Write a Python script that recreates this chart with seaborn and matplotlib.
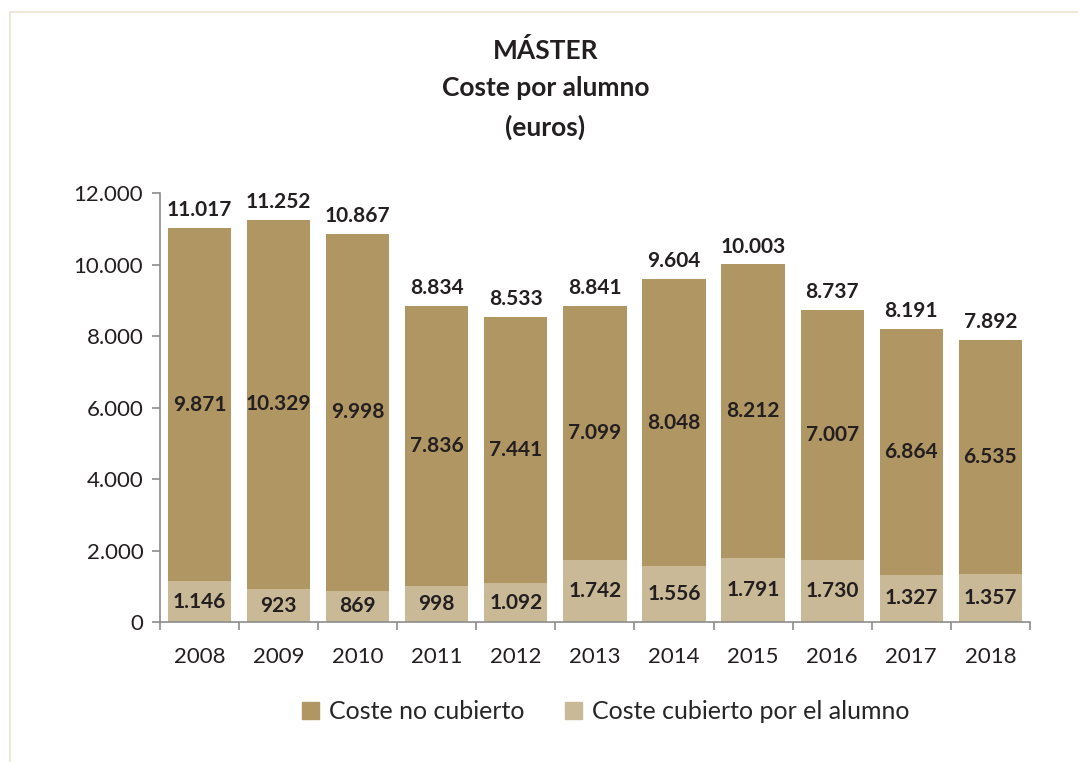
import numpy as np
import pandas as pd
import matplotlib.pyplot as plt
import seaborn as sns
from matplotlib.patches import Patch, Rectangle
from matplotlib.ticker import FuncFormatter, FixedLocator

years = ['2008', '2009', '2010', '2011', '2012', '2013', '2014', '2015', '2016', '2017', '2018']
no_cubierto = [9871, 10329, 9998, 7836, 7441, 7099, 8048, 8212, 7007, 6864, 6535]
cubierto = [1146, 923, 869, 998, 1092, 1742, 1556, 1791, 1730, 1327, 1357]

df = pd.DataFrame({'year': years, 'no_cubierto': no_cubierto, 'cubierto': cubierto})
df['total'] = df['no_cubierto'] + df['cubierto']

dark = '#B09663'
light = '#C9B997'
txt = '#231F20'

def miles(v):
    return f'{int(v):,}'.replace(',', '.')

sns.set_style('white')
plt.rcParams['font.family'] = ['Lato', 'DejaVu Sans']

fig = plt.figure(figsize=(10.78, 7.62), dpi=100)
ax = fig.add_axes([0.1484, 0.1837, 0.807, 0.563])

sns.barplot(data=df, x='year', y='total', color=dark, width=0.8, saturation=1, linewidth=0, ax=ax)
sns.barplot(data=df, x='year', y='cubierto', color=light, width=0.8, saturation=1, linewidth=0, ax=ax)

for i, r in df.iterrows():
    ax.text(i, r['total'] + 220, miles(r['total']), ha='center', va='bottom',
            fontsize=15, fontweight='bold', color=txt)
    ax.text(i, r['cubierto'] + r['no_cubierto'] / 2, miles(r['no_cubierto']), ha='center', va='center',
            fontsize=15, fontweight='bold', color=txt)
    ax.text(i, r['cubierto'] / 2, miles(r['cubierto']), ha='center', va='center',
            fontsize=15, fontweight='bold', color=txt)

ax.set_ylim(0, 12000)
ax.set_xlim(-0.5, len(years) - 0.5)
ax.set_yticks(range(0, 12001, 2000))
ax.yaxis.set_major_formatter(FuncFormatter(lambda v, p: miles(v)))
ax.xaxis.set_minor_locator(FixedLocator(np.arange(-0.5, len(years), 1)))
ax.tick_params(axis='x', which='major', length=0, pad=18, labelsize=16, labelcolor=txt)
ax.tick_params(axis='x', which='minor', length=6, width=1.2, color='#8C8C8C', bottom=True)
ax.tick_params(axis='y', length=6, width=1.2, color='#8C8C8C', left=True, labelsize=16, labelcolor=txt, pad=6)
ax.set_xlabel('')
ax.set_ylabel('')
for s in ['top', 'right']:
    ax.spines[s].set_visible(False)
for s in ['left', 'bottom']:
    ax.spines[s].set_color('#8C8C8C')
    ax.spines[s].set_linewidth(1.2)

fig.text(0.506, 0.934, 'MÁSTER', ha='center', va='center', fontsize=19, fontweight='bold', color=txt)
fig.text(0.506, 0.884, 'Coste por alumno', ha='center', va='center', fontsize=19, fontweight='bold', color=txt)
fig.text(0.506, 0.833, '(euros)', ha='center', va='center', fontsize=19, fontweight='bold', color=txt)

handles = [Patch(color=dark, label='Coste no cubierto'), Patch(color=light, label='Coste cubierto por el alumno')]
fig.legend(handles=handles, loc='center', bbox_to_anchor=(0.562, 0.066), ncol=2, frameon=False,
           fontsize=18, handlelength=0.7, handleheight=0.7, handletextpad=0.4, columnspacing=1.6)

fig.patches.append(Rectangle((10 / 1078, -0.1), 1.2, 1 - 12 / 762 + 0.1, transform=fig.transFigure,
                             fill=False, edgecolor='#EAE3D2', linewidth=1.2))

fig.savefig('out.png', dpi=100)
